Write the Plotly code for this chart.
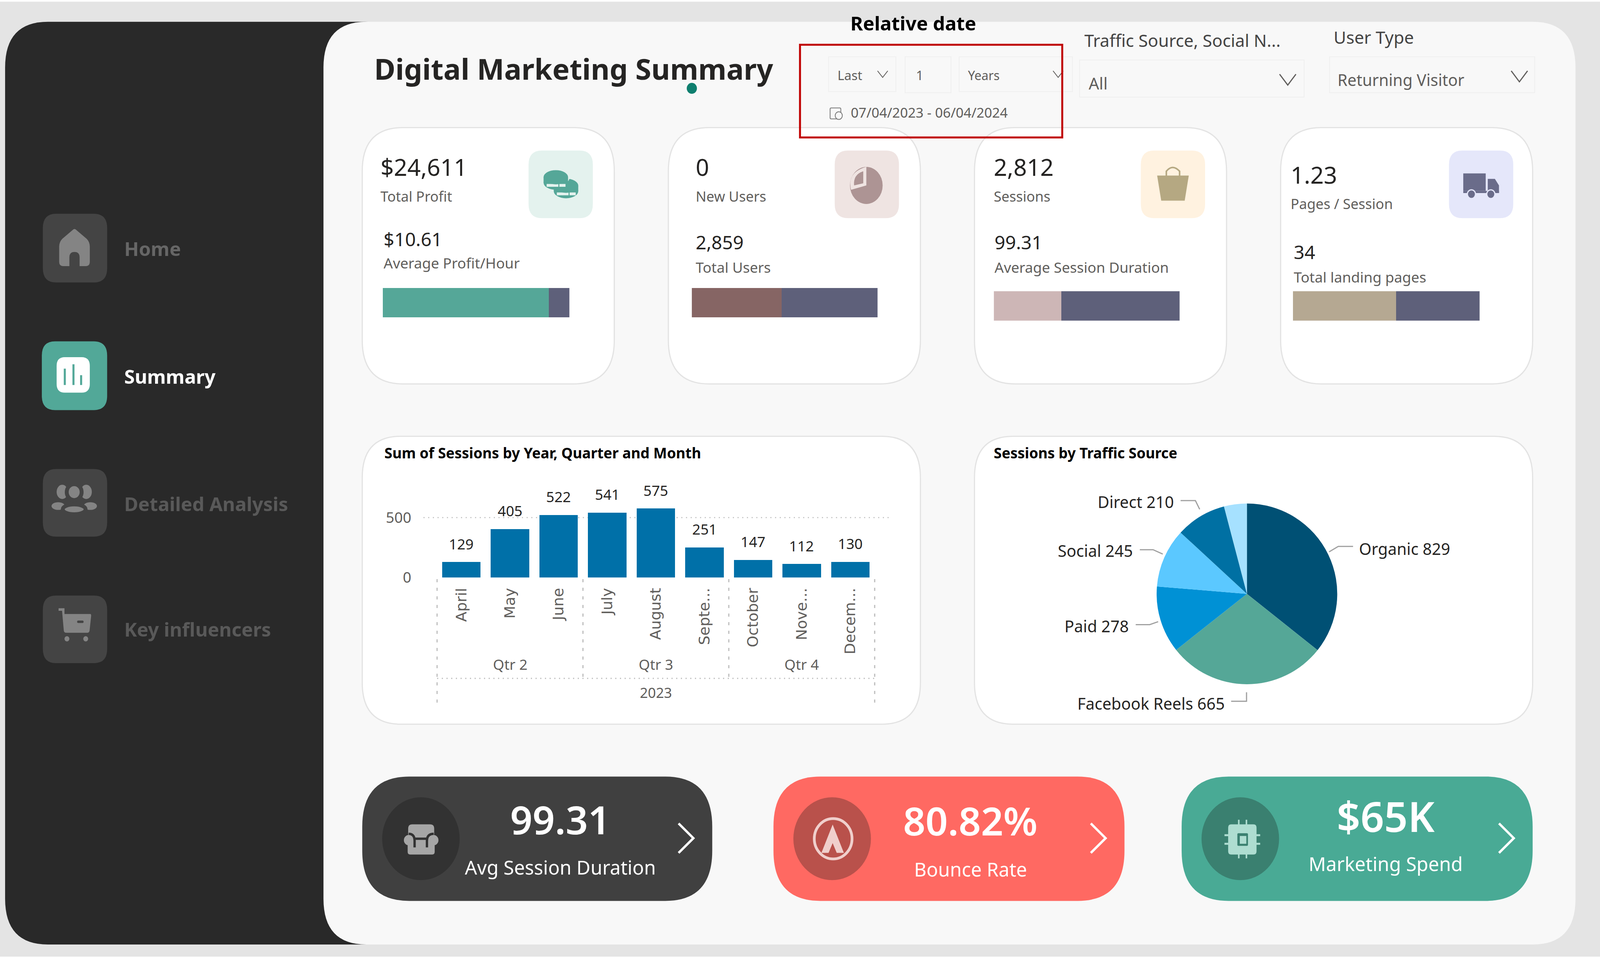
import plotly.graph_objects as go

# chart values
months = ['April', 'May', 'June', 'July', 'August', 'Septe...', 'October', 'Nove...', 'Decem...']
month_sessions = [129, 405, 522, 541, 575, 251, 147, 112, 130]
quarters = ['Qtr 2', 'Qtr 3', 'Qtr 4']
year_label = '2023'

traffic_sources = ['Organic', 'Facebook Reels', 'Paid', 'Social', 'Direct', 'Other']
traffic_sessions = [829, 665, 278, 245, 210, 95]
traffic_colors = ['#005074', '#55A797', '#0091D5', '#5BC8FF', '#0070A3', '#A6E1FF']

profit_split = [89, 11]
users_split = [48.4, 51.6]
sessions_split = [36.3, 63.7]
landing_split = [55.2, 44.8]

W, H = 1568, 877.1   # layout below is in units of the 1568 wide view
FONT = 'Noto Sans'
SLATE = '#5E607A'
GREY = '#605E5C'
DARK = '#252423'

fig = go.Figure()
shapes = []
notes = []


def rrect(x0, y0, x1, y1, r):
    return (f'M{x0+r},{y0} L{x1-r},{y0} Q{x1},{y0} {x1},{y0+r} L{x1},{y1-r} Q{x1},{y1} {x1-r},{y1} '
            f'L{x0+r},{y1} Q{x0},{y1} {x0},{y1-r} L{x0},{y0+r} Q{x0},{y0} {x0+r},{y0} Z')


def box(x0, y0, x1, y1, r, fill, line=None, width=2, layer='below'):
    shapes.append(dict(type='path', path=rrect(x0, y0, x1, y1, r), fillcolor=fill, layer=layer,
                       line=dict(color=line or fill, width=width if line else 0)))


def path(d, fill=None, line=None, width=3):
    shapes.append(dict(type='path', path=d, fillcolor=fill or 'rgba(0,0,0,0)', layer='above',
                       line=dict(color=line or 'rgba(0,0,0,0)', width=width if line else 0)))


def circle(cx, cy, rx, fill, ry=None, line=None, width=3):
    ry = ry or rx
    shapes.append(dict(type='circle', x0=cx-rx, x1=cx+rx, y0=cy-ry, y1=cy+ry, layer='above',
                       fillcolor=fill, line=dict(color=line or 'rgba(0,0,0,0)', width=width if line else 0)))


def label(x, y, text, size, color=DARK, anchor='left', bold=False, font=FONT, weight=None):
    f = dict(size=size, color=color, family=font)
    if weight:
        f['weight'] = weight
    notes.append(dict(x=x, y=y, xref='x', yref='y', text=f'<b>{text}</b>' if bold else text,
                      showarrow=False, xanchor=anchor, yanchor='middle', font=f))


def chevron(x, y, w, h, color='#605E5C', width=3):
    path(f'M{x-w},{y-h} L{x},{y+h} L{x+w},{y-h}', line=color, width=width)


def coin(cx, cy, color, back):
    circle(cx, cy, 12, back, ry=6.5, line=back, width=8)
    circle(cx, cy+5, 12, color, ry=6.5)
    box(cx-12, cy, cx+12, cy+5, 0, color, layer='above')
    for sx in (-9, -3.5, 3.5):
        box(cx+sx, cy+6.2, cx+sx+6, cy+8.8, 0, back, layer='above')
    circle(cx, cy, 12, color, ry=6.5)


# page background
box(0, 1.5, W, H, 0, '#E4E4E4')
box(5, 20, 400, 866, 42, '#292929')
box(317, 20, 1544, 866, 42, '#F8F8F8')

# sidebar
box(42, 196, 105, 259, 13, '#444444')
box(41, 313, 105, 376, 13, '#52A898')
box(42, 430, 105, 492, 13, '#444444')
box(42, 546, 105, 608, 13, '#444444')
label(121, 228, 'Home', 49, '#666666', bold=True)
label(121, 345, 'Summary', 49, '#FFFFFF', bold=True)
label(121, 462, 'Detailed Analysis', 49, '#595959', bold=True)
label(121, 577, 'Key influencers', 49, '#595959', bold=True)

ICON = '#848484'
path('M58,226 Q58,222 61,219 L71,211 Q73,209 75,211 L85,219 Q88,222 88,226 L88,240 Q88,244 84,244 '
     'L78,244 L78,236 Q78,231 73,231 Q68,231 68,236 L68,244 L62,244 Q58,244 58,240 Z', fill=ICON)
box(55.5, 327.5, 88, 360, 8, '#FFFFFF', layer='above')
for bx, by in [(63.5, 338), (72, 334), (79.5, 344)]:
    path(f'M{bx-1},{by} L{bx+1},{by} L{bx+1},353 L{bx-1},353 Z', fill='#52A898')
circle(61, 451, 5.5, ICON, ry=6.5)
circle(84.5, 451, 5.5, ICON, ry=6.5)
circle(72.7, 451.2, 7.3, ICON, line='#444444', width=10)
circle(57, 464, 6.5, ICON, ry=3.5)
circle(88.5, 464, 6.5, ICON, ry=3.5)
circle(72.7, 467, 11.2, ICON, ry=4.5, line='#444444', width=10)
path('M57.4,557.7 L63.2,557.7 L63.2,563 L88.5,563 Q89.5,563 89.3,565 L87.8,578 Q87.5,580.2 85.5,580.2 L65,580.2 '
     'Q62.7,580.2 62.5,578 L60.8,560 L57.4,560 Z', fill=ICON)
box(75.6, 569, 81.9, 571.2, 1, '#444444', layer='above')
circle(65.6, 585.7, 2.4, ICON)
circle(84, 585.7, 2.4, ICON)

# header
label(366, 63, 'Digital Marketing Summary', 74, DARK, bold=True)
circle(678, 81, 5, '#0F7F6F')
label(895, 21, 'Relative date', 49, '#000000', 'center', bold=True)
label(1062, 37, 'Traffic Source, Social N...', 44, '#444444')
label(1306, 34, 'User Type', 44, '#444444')

# slicers
for x0, y0, x1, y1 in [(812, 52, 878, 84), (887, 52, 932, 85), (940, 52, 1051, 84),
                       (1058, 55, 1278, 89), (1303, 52, 1504, 85)]:
    box(x0, y0, x1, y1, 0, '#F8F8F8', '#EFEFEF', 2, layer='above')
label(820, 69, 'Last', 33, GREY)
label(897, 69, '1', 33, GREY)
label(948, 69, 'Years', 32, GREY)
label(833, 103, '07/04/2023 - 06/04/2024', 35, GREY)
label(1066, 76, 'All', 42, GREY)
label(1310, 73, 'Returning Visitor', 41, GREY)
chevron(865, 68, 5, 3, width=2)
chevron(1037, 68, 5, 3, width=2)
chevron(1262, 73, 8, 5)
chevron(1489, 70, 8, 5)
box(813.5, 99, 824, 109, 1, 'rgba(0,0,0,0)', '#777777', 2, layer='above')
circle(822, 106, 3.5, '#F8F8F8', line='#777777', width=2)
shapes.append(dict(type='rect', x0=784, x1=1041, y0=41, y1=126, layer='above',
                   line=dict(color='#C00000', width=5)))

# kpi cards
for x0 in [355, 655, 955, 1255]:
    box(x0, 117, x0+247, 352, 40, '#FFFFFF', '#E3E3E3', 3)
for x0, fill in [(518, '#E4F2EE'), (818, '#EFE4E2'), (1118, '#FFF2E0'), (1420, '#E5E7FA')]:
    box(x0, 138, x0+63, 200, 13, fill)

kpi_text = [(372, 153, '$24,611', 372, 180, 'Total Profit', 375, 219, '$10.61', 375, 241, 'Average Profit/Hour'),
            (681, 153, '0', 681, 180, 'New Users', 681, 222, '2,859', 681, 245, 'Total Users'),
            (973, 153, '2,812', 973, 180, 'Sessions', 974, 222, '99.31', 974, 245, 'Average Session Duration'),
            (1264, 160, '1.23', 1264, 187, 'Pages / Session', 1267, 231, '34', 1267, 254, 'Total landing pages')]
for xa, ya, a, xb, yb, b, xc, yc, c, xd, yd, d in kpi_text:
    label(xa, ya, a, 60, DARK)
    label(xb, yb, b, 36, GREY)
    label(xc, yc, c, 48, DARK)
    label(xd, yd, d, 37, GREY)

# card icons
coin(554.7, 170.3, '#55A798', '#E4F2EE')
coin(544.7, 162.5, '#55A798', '#E4F2EE')
circle(849, 170, 16, '#AD9494', ry=17)
path('M849,153 L849,170 L834,174 Q830,158 849,153 Z', fill='#EFE4E2')
path('M846,157 L846,168 L837,170 Q836,160 846,157 Z', fill='#AD9494')
path('M1134,161 L1165,161 L1161,184 L1138,184 Z', fill='#B5A882')
path('M1143,163 L1143,157 Q1149,150 1156,157 L1156,163', line='#B5A882', width=4)
path('M1434,159 L1456,159 L1456,175 L1434,175 Z', fill='#6A6C8A')
path('M1458,164 L1465,164 L1469,170 L1469,177 L1458,177 Z', fill='#6A6C8A')
path('M1434,177 L1469,177 L1469,175 L1434,175 Z', fill='#6A6C8A')
circle(1442, 178, 4, '#6A6C8A', line='#E5E7FA', width=3)
circle(1461, 178, 4, '#6A6C8A', line='#E5E7FA', width=3)

# chart cards
box(355, 400, 902, 664, 38, '#FFFFFF', '#E3E3E3', 3)
box(955, 400, 1502, 664, 38, '#FFFFFF', '#E3E3E3', 3)
label(376, 415, 'Sum of Sessions by Year, Quarter and Month', 37, '#000000', bold=True)
label(973, 415, 'Sessions by Traffic Source', 37, '#000000', bold=True)


def xdom(a, b):
    return [a/W, b/W]


def ydom(top, bottom):
    return [1-bottom/H, 1-top/H]


# monthly bars
month_x = list(range(len(months)))
fig.add_trace(go.Bar(x=month_x, y=month_sessions, xaxis='x2', yaxis='y2',
                     marker=dict(color='#0070A8', line=dict(width=0)), width=0.79))
for mx, val in zip(month_x, month_sessions):
    notes.append(dict(x=mx, y=val, xref='x2', yref='y2', text=str(val), showarrow=False, yanchor='middle',
                      yshift=47, font=dict(size=37, color=DARK, family=FONT)))

for i, q in enumerate(quarters):
    notes.append(dict(x=1+3*i, y=609, xref='x2', yref='y', text=q, showarrow=False,
                      font=dict(size=37, color=GREY, family=FONT)))
notes.append(dict(x=4, y=635, xref='x2', yref='y', text=year_label, showarrow=False,
                  font=dict(size=36, color=GREY, family=FONT)))
for xv, bottom in [(-0.5, 649), (2.5, 622), (5.5, 622), (8.5, 649)]:
    shapes.append(dict(type='line', xref='x2', yref='y', x0=xv, x1=xv, y0=531, y1=bottom, layer='above',
                       line=dict(color='#BDBDBD', width=3, dash='8px,14px')))
shapes.append(dict(type='line', xref='x2', yref='y', x0=-0.5, x1=8.5, y0=622, y1=622, layer='above',
                   line=dict(color='#BDBDBD', width=3, dash='3px,9px')))

# traffic pie
fig.add_trace(go.Pie(labels=traffic_sources, values=traffic_sessions, sort=False, direction='clockwise',
                     rotation=0, textinfo='none', marker=dict(colors=traffic_colors, line=dict(width=0)),
                     domain=dict(x=xdom(1133.5, 1310.5), y=ydom(456, 633)), showlegend=False))

pie_spots = {'Organic': (1331, 503, 'left'), 'Facebook Reels': (1201, 645, 'right'), 'Paid': (1107, 574, 'right'),
             'Social': (1111, 505, 'right'), 'Direct': (1151, 460, 'right')}
for name, val in zip(traffic_sources, traffic_sessions):
    if name in pie_spots:
        px, py, anc = pie_spots[name]
        label(px, py, f'{name} {val}', 41, DARK, anc)
for d in ['M1302.5,506 L1311.5,501 L1326,501', 'M1157,459 L1171.5,459 L1175.7,467',
          'M1117,504 L1130,504 L1139.5,508', 'M1113,572.7 L1126.7,572.7 L1135,570',
          'M1206.5,643 L1221.6,643 L1221.6,634.7']:
    path(d, line='#A0A0A0', width=3)

# split bars inside the kpi cards
for n, (split, first, xs, ys) in enumerate([(profit_split, '#55A798', (375, 558), (264, 291)),
                                            (users_split, '#866564', (678, 860), (264, 291)),
                                            (sessions_split, '#CDB6B6', (974, 1156), (267, 294)),
                                            (landing_split, '#B5A892', (1267, 1450), (267, 294))]):
    ax = n + 3
    for v, c in zip(split, [first, SLATE]):
        fig.add_trace(go.Bar(x=[v], y=[0], orientation='h', width=1, marker=dict(color=c, line=dict(width=0)),
                             xaxis=f'x{ax}', yaxis=f'y{ax}', showlegend=False))
    fig.layout[f'xaxis{ax}'] = dict(domain=xdom(*xs), range=[0, 100], visible=False, anchor=f'y{ax}')
    fig.layout[f'yaxis{ax}'] = dict(domain=ydom(*ys), range=[-0.5, 0.5], visible=False, anchor=f'x{ax}')

# bottom tiles
tiles = [(355, 698, '#404040', '#323232', '99.31', 100, 'Avg Session Duration', 549, 751, 795),
         (758, 1102, '#FF6962', '#B9514B', '80.82%', 100, 'Bounce Rate', 951, 752, 797),
         (1158, 1502, '#49AA95', '#3A8070', '$65K', 106, 'Marketing Spend', 1358, 748, 792)]
for x0, x1, fill, dark, big, big_size, small, cx, ybig, ysmall in tiles:
    box(x0, 712, x1, 826, 46, fill)
    circle(x0+57.5, 769, 38, dark)
    label(cx, ybig, big, big_size, '#FFFFFF', 'center', weight=600)
    label(cx, ysmall, small, 49, '#FFFFFF', 'center')
    path(f'M{x1-33},755 L{x1-18.5},768.5 L{x1-33},782', line='#FFFFFF', width=6)

# armchair
box(400, 755.8, 425.5, 768, 4, '#A6A6A6', layer='above')
box(399.5, 767, 426, 783.5, 2.5, '#A6A6A6', layer='above')
circle(400.5, 770.3, 4.7, '#A6A6A6')
circle(425, 770.3, 4.7, '#A6A6A6')
for d in ['M400.5,764.5 Q406.3,764.5 406.3,771 L406.3,777', 'M425,764.5 Q418.4,764.5 418.4,771 L418.4,777',
          'M406.3,769 L418.4,769']:
    path(d, line='#323232', width=6)
# bounce target
circle(816.5, 769, 18.5, 'rgba(0,0,0,0)', line='#F0CFCC', width=7)
path('M816,756 L827,782 L820,782 L816,773 L812,782 L805,782 Z', fill='#F0CFCC')
# chip
for px_ in (1214, 1221.5):
    path(f'M{px_},751.6 L{px_},787', line='#AEDDD1', width=4)
for py_ in (765.8, 773.6):
    path(f'M1200,{py_} L1235,{py_}', line='#AEDDD1', width=5)
box(1203.6, 755.8, 1231.4, 783.5, 3, '#AEDDD1', layer='above')
box(1212.6, 764, 1223, 775.5, 1, '#3A8070', layer='above')
box(1215, 766.5, 1221.4, 773.6, 0, '#AEDDD1', layer='above')

fig.update_layout(
    width=4419,
    height=2472,
    margin=dict(l=0, r=0, t=0, b=0),
    paper_bgcolor='#FFFFFF',
    plot_bgcolor='rgba(0,0,0,0)',
    showlegend=False,
    barmode='stack',
    xaxis=dict(domain=[0, 1], range=[0, W], visible=False),
    yaxis=dict(domain=[0, 1], range=[H, 0], visible=False),
    xaxis2=dict(domain=xdom(415, 871), range=[-0.78, 8.79], anchor='y2', showgrid=False, zeroline=False,
                tickmode='array', tickvals=month_x, ticktext=months, tickangle=-90,
                ticklabelstandoff=18, ticks='', tickfont=dict(size=38, color=GREY, family='DejaVu Sans')),
    yaxis2=dict(domain=ydom(458, 529.5), range=[0, 650], anchor='x2', zeroline=False, showgrid=True,
                gridcolor='#C8C8C8', griddash='3px,9px', gridwidth=3, tickmode='array', tickvals=[0, 500],
                ticks='', ticklabelstandoff=30, tickfont=dict(size=38, color=GREY, family=FONT)),
    shapes=shapes,
    annotations=notes,
)

fit_page = """
document.body.style.margin = '0';
document.documentElement.style.overflow = 'hidden';
Plotly.relayout(document.getElementById('{plot_id}'), {width: window.innerWidth, height: window.innerHeight});
"""
fig.write_html('out.html', post_script=fit_page, config=dict(displayModeBar=False))
